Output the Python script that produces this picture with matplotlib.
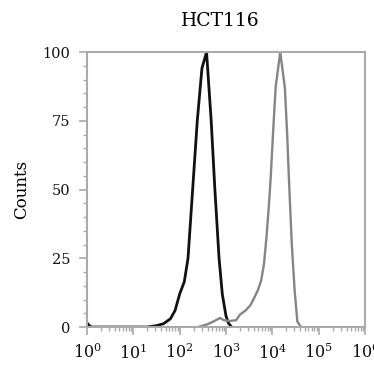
import numpy as np
import matplotlib
matplotlib.use("Agg")
import matplotlib.pyplot as plt
from matplotlib.ticker import LogLocator, MultipleLocator, NullFormatter

# Black histogram (log10 intensity, counts %)
black_logx = [0.0, 0.05, 0.1, 1.3, 1.5, 1.65, 1.8, 1.9, 2.0, 2.1, 2.18, 2.28, 2.38,
              2.48, 2.58, 2.68, 2.76, 2.85, 2.92, 3.0, 3.05, 3.12]
black_y = [1.5, 0.5, 0.0, 0.0, 0.5, 1.2, 3, 6, 12, 16.5, 25, 50, 75,
           94, 100, 75, 50, 25, 12, 4, 1.5, 0]

# Gray histogram
gray_logx = [2.4, 2.6, 2.75, 2.87, 2.95, 3.08, 3.22, 3.3, 3.42, 3.53, 3.62, 3.69, 3.76,
             3.82, 3.87, 3.92, 3.96, 4.02, 4.07, 4.17, 4.27, 4.32, 4.36, 4.42, 4.48,
             4.54, 4.62]
gray_y = [0, 1, 2.2, 3.3, 2.5, 2.2, 2.5, 4.5, 6, 8, 11, 13.5, 17,
          23, 32, 43, 53, 72, 87, 100, 87, 70, 53, 30, 13.5,
          2, 0]

title = "HCT116"
ylabel = "Counts"
yticks = [0, 25, 50, 75, 100]

plt.rcParams['font.family'] = ['DejaVu Serif']
plt.rcParams['mathtext.fontset'] = 'dejavuserif'
fig = plt.figure(figsize=(3.74, 3.65), dpi=100)
ax = fig.add_axes([0.2326, 0.104, 0.7434, 0.7535])

ax.plot(10 ** np.array(black_logx), black_y, color='#111111', lw=2.0)
ax.plot(10 ** np.array(gray_logx), gray_y, color='#858585', lw=1.7)

ax.set_xscale('log')
ax.set_xlim(1, 1e6)
ax.set_ylim(0, 100)
ax.set_yticks(yticks)
ax.yaxis.set_minor_locator(MultipleLocator(5))
ax.xaxis.set_major_locator(LogLocator(base=10, numticks=10))
ax.xaxis.set_minor_locator(LogLocator(base=10, subs=np.arange(2, 10), numticks=20))
ax.xaxis.set_minor_formatter(NullFormatter())

for s in ax.spines.values():
    s.set_color('#aaaaaa')
    s.set_linewidth(1.5)

ax.tick_params(axis='both', which='major', colors='#aaaaaa', labelcolor='#111111',
               labelsize=10.5, length=6, width=1.2, direction='out')
ax.tick_params(axis='both', which='minor', colors='#aaaaaa', length=3, width=1.0,
               direction='out')
ax.tick_params(axis='y', which='major', pad=6)
ax.tick_params(axis='x', which='major', pad=6, labelsize=11.5)

ax.set_title(title, fontsize=13.5, pad=19, x=0.48)
ax.set_ylabel(ylabel, fontsize=12, labelpad=9)

fig.savefig("out.png", dpi=100)
